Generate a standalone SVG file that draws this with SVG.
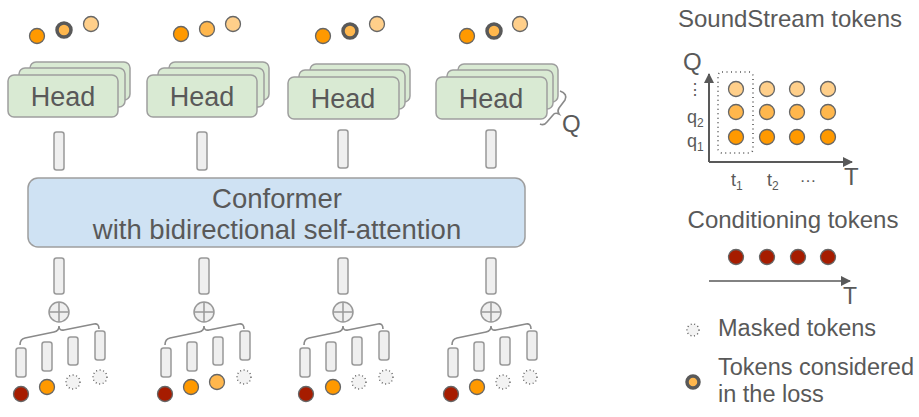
<svg xmlns="http://www.w3.org/2000/svg" width="919" height="417" viewBox="0 0 919 417">
<style>
text{font-family:"Liberation Sans",Arial,sans-serif;fill:#595959}
.head{fill:#d9ead3;stroke:#9e9e9e;stroke-width:1.5}
.emb{fill:#efefef;stroke:#999;stroke-width:1.5}
.conf{fill:#cfe2f3;stroke:#9e9e9e;stroke-width:1.5}
.dot{stroke:#666;stroke-width:1.3}
.o1{fill:#ff9900}
.o2{fill:#ffb74d}
.o3{fill:#ffcf8a}
.red{fill:#a61c00}
.loss{stroke:#595959;stroke-width:3.5}
.mask{fill:#f3f3f3;stroke:#555;stroke-width:1.3;stroke-dasharray:1 2.6}
.brace{fill:none;stroke:#8a8a8a;stroke-width:1.6}
.plus{fill:#efefef;stroke:#999;stroke-width:1.5}
.axis{stroke:#595959;stroke-width:2;fill:none}
.ht{font-size:27px}
.lg{font-size:23.5px}
</style>
<defs>
<marker id="ah" viewBox="0 0 10 10" refX="9" refY="5" markerWidth="5" markerHeight="5" orient="auto" markerUnits="strokeWidth">
<path d="M0,0 L10,5 L0,10 z" fill="#595959"/>
</marker>
<marker id="ah2" viewBox="0 0 10 10" refX="9" refY="5" markerWidth="7" markerHeight="7" orient="auto" markerUnits="strokeWidth">
<path d="M0,0 L10,5 L0,10 z" fill="#595959"/>
</marker>
<g id="bottomcol">
<rect class="emb" x="54" y="258" width="10" height="36" rx="2.5"/>
<circle class="plus" cx="59" cy="312" r="10"/>
<path d="M49,312 H69 M59,302 V322" stroke="#999" stroke-width="1.5"/>
<rect class="emb" x="16" y="348" width="10" height="29" rx="2.5"/>
<rect class="emb" x="42" y="342" width="10" height="29" rx="2.5"/>
<rect class="emb" x="68" y="337" width="10" height="28" rx="2.5"/>
<rect class="emb" x="95" y="331" width="10" height="29" rx="2.5"/>
</g>
</defs>

<!-- Head stacks -->
<g id="head1">
<rect class="head" x="30" y="62" width="100" height="38" rx="6"/>
<rect class="head" x="19" y="68" width="106" height="39" rx="6"/>
<rect class="head" x="8" y="75" width="110" height="42" rx="6"/>
<text class="ht" x="63" y="106" text-anchor="middle">Head</text>
</g>
<g id="head2">
<rect class="head" x="169" y="62" width="100" height="38" rx="6"/>
<rect class="head" x="158" y="68" width="106" height="39" rx="6"/>
<rect class="head" x="147" y="75" width="110" height="42" rx="6"/>
<text class="ht" x="202" y="106" text-anchor="middle">Head</text>
</g>
<g id="head3">
<rect class="head" x="310" y="64" width="100" height="38" rx="6"/>
<rect class="head" x="299" y="70" width="106" height="39" rx="6"/>
<rect class="head" x="288" y="77" width="111" height="42" rx="6"/>
<text class="ht" x="343" y="108" text-anchor="middle">Head</text>
</g>
<g id="head4">
<rect class="head" x="458" y="64" width="100" height="38" rx="6"/>
<rect class="head" x="447" y="70" width="106" height="39" rx="6"/>
<rect class="head" x="436" y="77" width="111" height="42" rx="6"/>
<text class="ht" x="491" y="108" text-anchor="middle">Head</text>
</g>

<!-- output tokens above heads -->
<g id="out1">
<circle class="dot o1" cx="37" cy="36" r="7.5"/>
<circle class="o2 loss" cx="64" cy="30" r="7"/>
<circle class="dot o3" cx="91" cy="24" r="7.5"/>
</g>
<g id="out2">
<circle class="dot o1" cx="181" cy="34" r="7.5"/>
<circle class="dot o2" cx="207" cy="29" r="7.5"/>
<circle class="dot o3" cx="233" cy="24" r="7.5"/>
</g>
<g id="out3">
<circle class="dot o1" cx="323" cy="36" r="7.5"/>
<circle class="o2 loss" cx="350" cy="31" r="7"/>
<circle class="dot o3" cx="377" cy="24" r="7.5"/>
</g>
<g id="out4">
<circle class="dot o1" cx="467" cy="36" r="7.5"/>
<circle class="o2 loss" cx="494" cy="31" r="7"/>
<circle class="dot o3" cx="520" cy="24" r="7.5"/>
</g>

<text x="562" y="132" font-size="24">Q</text>

<!-- embeddings between heads and conformer -->
<g id="emb-top">
<rect class="emb" x="54" y="132" width="10" height="38" rx="2.5"/>
<rect class="emb" x="197" y="132" width="10" height="38" rx="2.5"/>
<rect class="emb" x="338" y="130" width="10" height="38" rx="2.5"/>
<rect class="emb" x="486" y="130" width="10" height="38" rx="2.5"/>
</g>

<!-- Conformer -->
<g id="conformer">
<rect class="conf" x="28" y="178" width="497" height="69" rx="10"/>
<text x="277" y="208" font-size="27.5" text-anchor="middle">Conformer</text>
<text x="277" y="239" font-size="27.5" text-anchor="middle">with bidirectional self-attention</text>
</g>

<!-- Bottom input columns -->
<g id="in1">
<use href="#bottomcol"/>
<circle class="dot red" cx="21" cy="394" r="7.5"/>
<circle class="dot o1" cx="47" cy="387" r="7.5"/>
<circle class="mask" cx="73" cy="382" r="7"/>
<circle class="mask" cx="100" cy="377" r="7"/>
</g>
<g id="in2">
<use href="#bottomcol" transform="translate(145,0)"/>
<circle class="dot red" cx="165" cy="394" r="7.5"/>
<circle class="dot o1" cx="191" cy="387" r="7.5"/>
<circle class="dot o2" cx="217" cy="382" r="7.5"/>
<circle class="mask" cx="244" cy="377" r="7"/>
</g>
<g id="in3">
<use href="#bottomcol" transform="translate(284,0)"/>
<circle class="dot red" cx="306" cy="394" r="7.5"/>
<circle class="dot o1" cx="333" cy="387" r="7.5"/>
<circle class="mask" cx="359" cy="382" r="7"/>
<circle class="mask" cx="386" cy="377" r="7"/>
</g>
<g id="in4">
<use href="#bottomcol" transform="translate(432,0)"/>
<circle class="dot red" cx="451" cy="394" r="7.5"/>
<circle class="dot o1" cx="477" cy="387" r="7.5"/>
<circle class="mask" cx="503" cy="382" r="7"/>
<circle class="mask" cx="530" cy="377" r="7"/>
</g>

<!-- connectors: braces and axes -->
<g id="connectors">
<path class="brace" d="M560,91 Q568,94 565,100 L559,108 Q557,111 559,114 Q555,112 553,115 L547,122 Q544,126 540,124"/>
<path id="b1" class="brace" d="M20,345 Q20,339 25,338 L54,332 Q59,331 59,326 Q59,331 64,330 L94,324 Q99,323 99,329"/>
<use href="#b1" transform="translate(145,0)"/>
<use href="#b1" transform="translate(284,0)"/>
<use href="#b1" transform="translate(432,0)"/>
<path class="axis" d="M709,162 V74" marker-end="url(#ah)"/>
<path class="axis" d="M709,162 H852" marker-end="url(#ah)"/>
<path stroke="#595959" stroke-width="1.5" d="M709,281 H850" marker-end="url(#ah2)"/>
</g>

<!-- SoundStream tokens legend -->
<g id="soundstream">
<text x="790" y="27" font-size="24" text-anchor="middle">SoundStream tokens</text>
<text x="683" y="70" font-size="24">Q</text>
<text x="844" y="185" font-size="24">T</text>
<rect x="718" y="72" width="35" height="81" rx="4" fill="none" stroke="#595959" stroke-width="1.6" stroke-dasharray="1 3.5"/>
<circle class="dot o3" cx="736" cy="89" r="7.5"/>
<circle class="dot o3" cx="767" cy="89" r="7.5"/>
<circle class="dot o3" cx="797" cy="89" r="7.5"/>
<circle class="dot o3" cx="828" cy="89" r="7.5"/>
<circle class="dot o2" cx="736" cy="112" r="7.5"/>
<circle class="dot o2" cx="767" cy="112" r="7.5"/>
<circle class="dot o2" cx="797" cy="112" r="7.5"/>
<circle class="dot o2" cx="828" cy="112" r="7.5"/>
<circle class="dot o1" cx="736" cy="137" r="7.5"/>
<circle class="dot o1" cx="767" cy="137" r="7.5"/>
<circle class="dot o1" cx="797" cy="137" r="7.5"/>
<circle class="dot o1" cx="828" cy="137" r="7.5"/>
<text x="695" y="95" font-size="16" text-anchor="middle" font-family="DejaVu Sans">⋮</text>
<text x="687" y="123" font-size="18">q<tspan font-size="12" dy="4">2</tspan></text>
<text x="687" y="147" font-size="18">q<tspan font-size="12" dy="4">1</tspan></text>
<text x="731" y="186" font-size="18">t<tspan font-size="12" dy="4">1</tspan></text>
<text x="767" y="186" font-size="18">t<tspan font-size="12" dy="4">2</tspan></text>
<text x="808" y="182" font-size="17" text-anchor="middle">…</text>
</g>

<!-- Conditioning tokens legend -->
<g id="conditioning">
<text x="793" y="228" font-size="24" text-anchor="middle">Conditioning tokens</text>
<circle class="dot red" cx="736" cy="257" r="7.5"/>
<circle class="dot red" cx="767" cy="257" r="7.5"/>
<circle class="dot red" cx="798" cy="257" r="7.5"/>
<circle class="dot red" cx="828" cy="257" r="7.5"/>
<text x="843" y="304" font-size="23">T</text>
</g>

<g id="legend-masked">
<circle class="mask" cx="693" cy="330" r="6"/>
<text class="lg" x="718" y="336">Masked tokens</text>
</g>
<g id="legend-loss">
<circle class="o2 loss" cx="693" cy="382" r="6"/>
<text class="lg" x="718" y="375">Tokens considered</text>
<text class="lg" x="718" y="402">in the loss</text>
</g>
</svg>
